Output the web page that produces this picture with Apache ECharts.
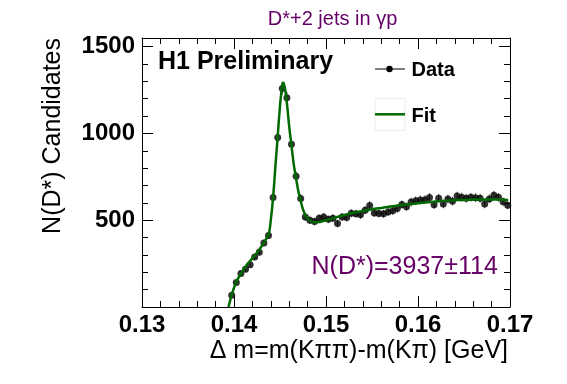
<!DOCTYPE html>
<html>
<head>
<meta charset="utf-8">
<script src="https://cdn.jsdelivr.net/npm/echarts@6/dist/echarts.min.js"></script>
<style>html,body{margin:0;padding:0;background:#fff}#c{width:567px;height:384px}</style>
</head>
<body>
<div id="c"></div>
<script>
var binCenters = [0.13975,0.14025,0.14075,0.14125,0.14175,0.14225,0.14275,0.14325,0.14375,0.14425,0.14475,0.14525,0.14575,0.14625,0.14675,0.14725,0.14775,0.14825,0.14875,0.14925,0.14975,0.15025,0.15075,0.15125,0.15175,0.15225,0.15275,0.15325,0.15375,0.15425,0.15475,0.15525,0.15575,0.15625,0.15675,0.15725,0.15775,0.15825,0.15875,0.15925,0.15975,0.16025,0.16075,0.16125,0.16175,0.16225,0.16275,0.16325,0.16375,0.16425,0.16475,0.16525,0.16575,0.16625,0.16675,0.16725,0.16775,0.16825,0.16875,0.16925,0.16975];
var counts = [67,141,193,217,244,288,315,369,412,631,977,1259,1205,938,754,625,519,500,492,512,519,505,512,481,519,515,540,537,531,558,585,542,539,537,548,555,567,590,578,605,612,617,618,631,589,627,593,622,610,639,633,626,632,630,627,593,623,644,632,606,587];
var countErrors = [9,12,14,15,16,17,18,19,20,25,31,35,35,31,27,25,23,22,22,23,23,22,23,22,23,23,23,23,23,24,24,23,23,23,23,24,24,24,24,25,25,25,25,25,24,25,24,25,25,25,25,25,25,25,25,24,25,25,25,25,24];
var fitX = [0.1394,0.13975,0.1400,0.14025,0.1405,0.14075,0.1410,0.1415,0.1420,0.1425,0.1430,0.1435,0.1438,0.1440,0.14425,0.1445,0.14475,0.1450,0.1452,0.1453,0.1454,0.1456,0.1458,0.1460,0.14625,0.1465,0.14675,0.1470,0.14725,0.1475,0.14775,0.1480,0.1484,0.1488,0.1492,0.1496,0.1500,0.151,0.152,0.153,0.154,0.155,0.156,0.157,0.158,0.159,0.160,0.161,0.162,0.163,0.164,0.165,0.166,0.167,0.168,0.169,0.1698];
var fitY = [0,70,110,145,170,190,212,250,280,312,350,392,425,500,630,810,985,1160,1262,1292,1290,1240,1150,1040,930,820,740,665,610,562,530,510,494,488,489,494,500,515,530,543,553,563,571,579,586,592,598,603,608,612,615,617,619,620,620,619,617];
var yTickLabels = [500, 1000, 1500];
var title = 'D*+2 jets in \u03b3p';
var yieldText = 'N(D*)=3937\u00b1114';

var purple = '#660066';
var green = '#006a00';
var pts = binCenters.map(function (x, i) { return [x, counts[i], countErrors[i]]; });
var fitPts = fitX.map(function (x, i) { return [x, fitY[i]]; });

var chart = echarts.init(document.getElementById('c'), null, {renderer: 'canvas'});
var lab = {fontFamily: 'Liberation Sans', fontWeight: 'bold', fontSize: 24, color: '#000'};
function xAx(pos, showLabel) {
  return {type: 'value', position: pos, min: 0.13, max: 0.17, interval: 0.01,
    axisLine: {show: true, onZero: false, lineStyle: {color: '#000', width: 1}},
    axisTick: {show: true, inside: true, length: 11, lineStyle: {color: '#000'}},
    minorTick: {show: true, splitNumber: 5, length: 6, lineStyle: {color: '#000'}},
    splitLine: {show: false}, minorSplitLine: {show: false},
    axisLabel: Object.assign({show: showLabel, margin: 6, formatter: function (v) { return v.toFixed(2); }}, lab)};
}
function yAx(pos, interval, len, showLabel, showLine) {
  return {type: 'value', position: pos, min: 0, max: 1550, interval: interval,
    axisLine: {show: showLine, onZero: false, lineStyle: {color: '#000', width: 1}},
    axisTick: {show: true, inside: true, length: len, lineStyle: {color: '#000'}},
    splitLine: {show: false},
    axisLabel: Object.assign({show: showLabel, margin: 7, formatter: function (v) { return yTickLabels.indexOf(v) >= 0 ? String(v) : ''; }}, lab)};
}

chart.setOption({
  animation: false,
  grid: {left: 142, right: 57, top: 38, bottom: 77, containLabel: false},
  xAxis: [xAx('bottom', true), xAx('top', false)],
  yAxis: [yAx('left', 500, 11, true, true), yAx('left', 100, 6, false, false), yAx('right', 500, 11, false, true), yAx('right', 100, 6, false, false)],
  series: [
    {type: 'custom', xAxisIndex: 0, yAxisIndex: 0, data: pts, encode: {x: 0, y: 1}, z: 2,
      renderItem: function (params, api) {
        var x = api.value(0), y = api.value(1), e = api.value(2);
        var a = api.coord([x, y - e]), b = api.coord([x, y + e]);
        return {type: 'line', shape: {x1: a[0], y1: a[1], x2: b[0], y2: b[1]}, style: {stroke: '#444', lineWidth: 1}};
      }},
    {type: 'scatter', xAxisIndex: 0, yAxisIndex: 0, data: pts, symbol: 'circle', symbolSize: 7,
      itemStyle: {color: '#000'}, z: 3},
    {type: 'line', xAxisIndex: 0, yAxisIndex: 0, data: fitPts, showSymbol: false, smooth: 0.3,
      lineStyle: {color: green, width: 2.5}, z: 4}
  ],
  graphic: [
    {type: 'text', x: 332.5, y: 19.5, style: {text: title, fontFamily: 'Liberation Sans', fontSize: 20, fill: purple, textAlign: 'center', textVerticalAlign: 'middle'}},
    {type: 'text', x: 158, y: 62.5, style: {text: 'H1 Preliminary', fontFamily: 'Liberation Sans', fontWeight: 'bold', fontSize: 25, fill: '#000', textAlign: 'left', textVerticalAlign: 'middle'}},
    {type: 'line', shape: {x1: 375, y1: 69, x2: 405, y2: 69}, style: {stroke: '#000', lineWidth: 1}},
    {type: 'circle', shape: {cx: 389.5, cy: 69, r: 3.2}, style: {fill: '#000'}},
    {type: 'text', x: 411.5, y: 70.5, style: {text: 'Data', fontFamily: 'Liberation Sans', fontWeight: 'bold', fontSize: 20, fill: '#000', textAlign: 'left', textVerticalAlign: 'middle'}},
    {type: 'rect', shape: {x: 375, y: 98.5, width: 30, height: 32}, style: {fill: 'none', stroke: '#ececec', lineWidth: 1}},
    {type: 'line', shape: {x1: 375, y1: 114.3, x2: 405, y2: 114.3}, style: {stroke: green, lineWidth: 2.5}},
    {type: 'text', x: 411.5, y: 116, style: {text: 'Fit', fontFamily: 'Liberation Sans', fontWeight: 'bold', fontSize: 20, fill: '#000', textAlign: 'left', textVerticalAlign: 'middle'}},
    {type: 'text', x: 311.5, y: 267, style: {text: yieldText, fontFamily: 'Liberation Sans', fontSize: 25, fill: purple, textAlign: 'left', textVerticalAlign: 'middle'}},
    {type: 'text', x: 508, y: 351, style: {text: '\u0394 m=m(K\u03c0\u03c0)-m(K\u03c0) [GeV]', fontFamily: 'Liberation Sans', fontSize: 25, fill: '#000', textAlign: 'right', textVerticalAlign: 'middle'}},
    {type: 'text', x: 53.5, y: 38, rotation: Math.PI / 2, style: {text: 'N(D*) Candidates', fontFamily: 'Liberation Sans', fontSize: 25, fill: '#000', textAlign: 'right', textVerticalAlign: 'middle'}}
  ]
});
</script>
</body>
</html>
